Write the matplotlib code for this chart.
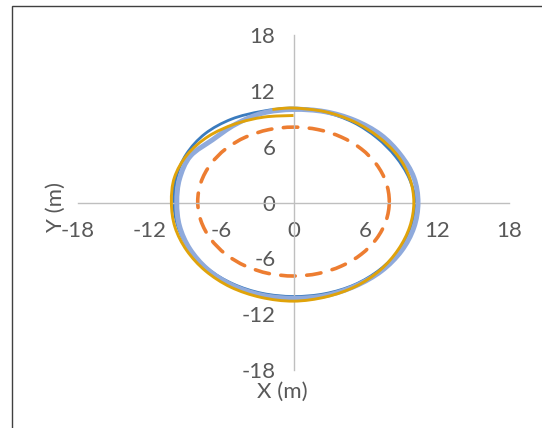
import numpy as np
import matplotlib.pyplot as plt
from matplotlib.path import Path
from matplotlib.patches import Rectangle, PathPatch

plt.rcParams['font.family'] = ['Lato', 'DejaVu Sans']
plt.rcParams['axes.unicode_minus'] = False

# reference path (dashed)
ref_x = [8.0, 7.73, 6.93, 5.66, 4.0, 2.07, 0.0, -2.07, -4.0, -5.66, -6.93, -7.73,
         -8.0, -7.73, -6.93, -5.66, -4.0, -2.07, 0.0, 2.07, 4.0, 5.66, 6.93, 7.73, 8.0]
ref_y = [0.1, 2.17, 4.1, 5.76, 7.03, 7.83, 8.1, 7.83, 7.03, 5.76, 4.1, 2.17,
         0.1, -1.97, -3.9, -5.56, -6.83, -7.63, -7.9, -7.63, -6.83, -5.56, -3.9, -1.97, 0.1]

# measured runs
run1_x = [10.2, 9.66, 8.53, 6.96, 4.98, 2.6, 0.0, -2.63, -5.18, -7.39, -8.96, -9.8,
          -10.0, -9.66, -8.7, -7.14, -5.05, -2.62, 0.0, 2.63, 5.1, 7.21, 8.83, 9.85, 10.2]
run1_y = [0.0, 2.59, 4.93, 6.96, 8.62, 9.71, 10.15, 9.8, 8.96, 7.39, 5.18, 2.63,
          0.0, -2.59, -5.03, -7.14, -8.75, -9.76, -10.1, -9.8, -8.83, -7.21, -5.1, -2.64, 0.0]

run2_x = [0.0, -2.46, -4.88, -7.11, -8.88, -9.95, -10.2, -9.9, -8.92, -7.35, -5.25, -2.73,
          0.0, 2.72, 5.2, 7.25, 8.75, 9.71, 10.05, 9.71, 8.7, 7.07, 5.03, 2.62, 0.0, -1.76]
run2_y = [9.35, 9.18, 8.44, 7.11, 5.13, 2.67, 0.0, -2.65, -5.15, -7.35, -9.09, -10.19,
          -10.6, -10.14, -9.01, -7.25, -5.05, -2.6, 0.0, 2.6, 5.03, 7.07, 8.7, 9.76, 10.15, 10.0]

run3_x = [10.4, 10.05, 8.92, 7.28, 5.1, 2.62, 0.0, -2.58, -4.85, -6.75, -8.62, -9.52,
          -9.75, -9.52, -8.66, -7.18, -5.13, -2.67, 0.0, 2.68, 5.18, 7.35, 9.01, 10.05, 10.4]
run3_y = [0.0, 2.69, 5.15, 7.28, 8.83, 9.76, 10.0, 9.61, 8.4, 6.75, 4.98, 2.55,
          0.0, -2.55, -5.0, -7.18, -8.88, -9.95, -10.3, -10.0, -8.96, -7.35, -5.2, -2.69, 0.0]

ticks = [-18, -12, -6, 0, 6, 12, 18]
tick_labels = ['-18', '-12', '-6', '0', '6', '12', '18']


def smooth_path(xs, ys, closed):
    # Catmull-Rom through the points, drawn as cubic Bezier segments
    p = np.column_stack([xs, ys])
    if closed:
        p = p[:-1]
        n = len(p)
        prev = lambda i: p[(i - 1) % n]
        nxt = lambda i: p[(i + 1) % n]
        nseg = n
    else:
        n = len(p)
        prev = lambda i: p[max(i - 1, 0)]
        nxt = lambda i: p[min(i + 1, n - 1)]
        nseg = n - 1
    verts = [p[0]]
    codes = [Path.MOVETO]
    for i in range(nseg):
        a = p[i]
        b = p[(i + 1) % n]
        c1 = a + (b - prev(i)) / 6.0
        c2 = b - (nxt((i + 1) % n) - a) / 6.0
        verts += [c1, c2, b]
        codes += [Path.CURVE4] * 3
    return Path(verts, codes)


fig = plt.figure(figsize=(5.42, 4.28), dpi=100)
ax = fig.add_axes([78 / 542, 58 / 428, 431 / 542, 335 / 428])

ax.add_patch(PathPatch(smooth_path(ref_x, ref_y, True), fill=False,
                       edgecolor='#ED7D31', lw=2.6, linestyle=(0, (4.0, 3.2)),
                       capstyle='round', zorder=1))
ax.add_patch(PathPatch(smooth_path(run1_x, run1_y, True), fill=False,
                       edgecolor='#3A7BBE', lw=2.0, zorder=2))
ax.add_patch(PathPatch(smooth_path(run3_x, run3_y, True), fill=False,
                       edgecolor='#8FAADC', lw=3.6, zorder=3))
ax.add_patch(PathPatch(smooth_path(run2_x, run2_y, False), fill=False,
                       edgecolor='#E0A30A', lw=2.1, zorder=4))

ax.set_xlim(-18, 18)
ax.set_ylim(-18, 18)
ax.set_xticks(ticks)
ax.set_xticklabels(tick_labels)
ax.set_yticks(ticks)
ax.set_yticklabels(tick_labels)

ax.spines['left'].set_position(('data', 0))
ax.spines['bottom'].set_position(('data', 0))
ax.spines['top'].set_visible(False)
ax.spines['right'].set_visible(False)
for s in ['left', 'bottom']:
    ax.spines[s].set_color('#BFBFBF')
    ax.spines[s].set_linewidth(1.0)

ax.tick_params(length=0, labelsize=16, labelcolor='#595959', pad=13)
ax.patch.set_visible(False)

fig.text(282 / 542, 1 - 392 / 428, 'X (m)', ha='center', va='center',
         fontsize=16, color='#595959')
fig.text(56 / 542, 1 - 207 / 428, 'Y (m)', ha='center', va='center',
         rotation=90, fontsize=16, color='#595959')

# chart frame
fig.add_artist(Rectangle((12 / 542, -0.1), 1.0, 1.1 - 6 / 428,
                         transform=fig.transFigure, fill=False,
                         edgecolor='#404040', lw=1.0))

fig.savefig('out.png', dpi=100)
